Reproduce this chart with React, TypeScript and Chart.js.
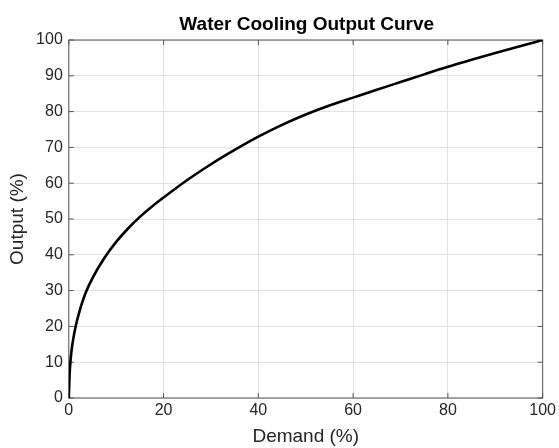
import React, { useEffect, useRef } from 'react';
import { Chart, registerables } from 'chart.js';

Chart.register(...registerables);

const demand = [0, 0.15, 0.4, 0.8, 1.5, 2.5, 3.5, 5, 7.5, 10, 12.5, 15, 17.5, 20, 25, 30, 35, 40, 45, 50, 55, 60, 65, 70, 75, 80, 85, 90, 95, 100];
const output = [0, 6, 11, 15.4, 20.3, 25.3, 29.2, 33.5, 39.1, 43.6, 47.35, 50.6, 53.45, 56, 60.9, 65.3, 69.3, 73, 76.3, 79.2, 81.7, 83.9, 86.1, 88.25, 90.4, 92.5, 94.45, 96.35, 98.2, 100];
const xTicks = [0, 20, 40, 60, 80, 100];
const yTicks = [0, 10, 20, 30, 40, 50, 60, 70, 80, 90, 100];
const chartTitle = 'Water Cooling Output Curve';
const xLabel = 'Demand (%)';
const yLabel = 'Output (%)';

const FONT = "'Liberation Sans', Arial, Helvetica, sans-serif";
const TEXT = '#262626';
const AXIS = '#555555';
const GRID = '#e2e2e2';

const boxPlugin = {
  id: 'matlabBox',
  beforeDatasetsDraw(chart: any) {
    const { ctx, chartArea: a, scales } = chart;
    ctx.save();
    ctx.strokeStyle = AXIS;
    ctx.lineWidth = 1;
    ctx.strokeRect(a.left, a.top, a.right - a.left, a.bottom - a.top);
    const tl = 5;
    ctx.beginPath();
    scales.x.ticks.forEach((t: any) => {
      const px = scales.x.getPixelForValue(t.value);
      ctx.moveTo(px, a.bottom);
      ctx.lineTo(px, a.bottom - tl);
      ctx.moveTo(px, a.top);
      ctx.lineTo(px, a.top + tl);
    });
    scales.y.ticks.forEach((t: any) => {
      const py = scales.y.getPixelForValue(t.value);
      ctx.moveTo(a.left, py);
      ctx.lineTo(a.left + tl, py);
      ctx.moveTo(a.right, py);
      ctx.lineTo(a.right - tl, py);
    });
    ctx.stroke();
    ctx.restore();
  },
  afterDraw(chart: any) {
    const { ctx, chartArea: a } = chart;
    ctx.save();
    ctx.fillStyle = '#000000';
    ctx.font = `bold 19px ${FONT}`;
    ctx.textAlign = 'center';
    ctx.textBaseline = 'alphabetic';
    ctx.fillText(chartTitle, (a.left + a.right) / 2 + 1, 29.5);
    ctx.restore();
  },
};

export default function App() {
  const canvasRef = useRef<HTMLCanvasElement | null>(null);

  useEffect(() => {
    if (!canvasRef.current) return;
    const chart = new Chart(canvasRef.current, {
      type: 'line',
      data: {
        datasets: [
          {
            label: 'Output',
            data: demand.map((x, i) => ({ x, y: output[i] })),
            borderColor: '#000000',
            backgroundColor: '#000000',
            borderWidth: 2.6,
            pointRadius: 0,
            cubicInterpolationMode: 'monotone',
            fill: false,
          },
        ],
      },
      options: {
        responsive: false,
        animation: false,
        layout: { padding: { top: 40, right: 13, bottom: 0, left: 0 } },
        plugins: {
          legend: { display: false },
          tooltip: { enabled: false },
          title: { display: false },
        },
        scales: {
          x: {
            type: 'linear',
            min: 0,
            max: 100,
            afterBuildTicks: (s: any) => {
              s.ticks = xTicks.map((v) => ({ value: v }));
            },
            afterFit: (s: any) => {
              s.height = 50;
            },
            grid: { color: GRID, lineWidth: 1, drawTicks: false },
            border: { display: false },
            ticks: {
              font: { family: FONT, size: 16 },
              color: TEXT,
              padding: 3,
              maxRotation: 0,
              autoSkip: false,
            },
            title: {
              display: true,
              text: xLabel,
              font: { family: FONT, size: 19 },
              color: TEXT,
              padding: { top: 0, bottom: 0 },
            },
          },
          y: {
            type: 'linear',
            min: 0,
            max: 100,
            afterBuildTicks: (s: any) => {
              s.ticks = yTicks.map((v) => ({ value: v }));
            },
            afterFit: (s: any) => {
              s.width = 68.8;
            },
            grid: { color: GRID, lineWidth: 1, drawTicks: false },
            border: { display: false },
            ticks: {
              font: { family: FONT, size: 16 },
              color: TEXT,
              padding: 6,
              autoSkip: false,
            },
            title: {
              display: true,
              text: yLabel,
              font: { family: FONT, size: 19 },
              color: TEXT,
              padding: { top: 6, bottom: 0 },
            },
          },
        },
      },
      plugins: [boxPlugin],
    } as any);
    return () => chart.destroy();
  }, []);

  return (
    <div style={{ position: 'absolute', left: 0, top: 0, width: 559, height: 448, background: '#ffffff' }}>
      <canvas ref={canvasRef} width={559} height={448} />
    </div>
  );
}
